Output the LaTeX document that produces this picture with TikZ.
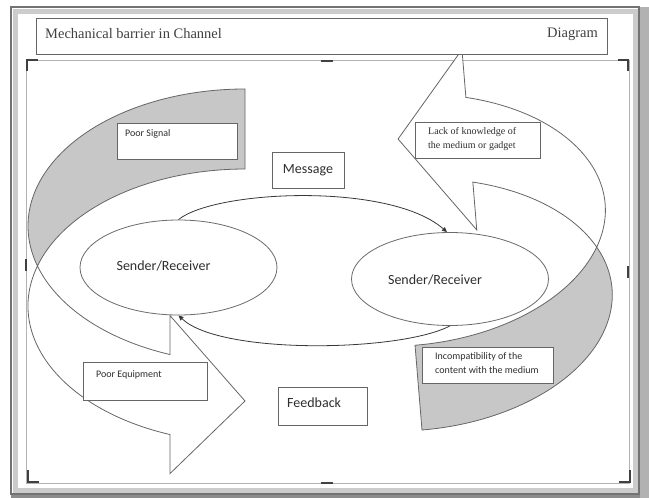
\documentclass[tikz,border=0pt]{standalone}
\usepackage{fontspec}
\setmainfont{Liberation Serif}
\newfontfamily\calibri{Carlito}
\usetikzlibrary{shapes.geometric,arrows.meta}
\begin{document}
\begin{tikzpicture}[x=1pt,y=-1pt,
  outline/.style={draw=black!60, line width=0.8pt},
  back/.style={outline, fill=black!22},
  front/.style={outline, fill=white},
  ring/.style={draw=black!78, line width=0.8pt, -{Triangle[length=5pt,width=4.5pt]}},
  actor/.style={ellipse, draw=black!58, line width=0.8pt, fill=white, minimum width=197pt, minimum height=95pt, inner sep=0pt},
  tag/.style={draw=black!60, line width=0.7pt, fill=white, inner sep=0pt},
  sanslbl/.style={font=\calibri\fontsize{14}{16}\selectfont, text=black!82, inner sep=0pt},
  smallsans/.style={font=\calibri\fontsize{10}{14.5}\selectfont, text=black!82, inner sep=0pt, align=left},
  smallserif/.style={font=\fontsize{10}{14.5}\selectfont, text=black!82, inner sep=0pt, align=left},
  titlefont/.style={font=\fontsize{14.5}{17}\selectfont, text=black!75, inner sep=0pt},
  cropmark/.style={draw=black!75, line width=1.6pt},
]
\useasboundingbox (0,0) rectangle (649,498);
\fill[white] (0,0) rectangle (649,498);

% page border with its shadow
\draw[black!20, line width=5pt] (15,11) rectangle (635,490);
\draw[black!55, line width=2pt] (11,7) rectangle (639,494);
\fill[black!45] (11,495) rectangle (649,498);
\fill[black!30] (640,7) rectangle (649,498);

% text frame and its handles
\draw[black!30, line width=0.6pt] (26,60) rectangle (629,483);
\draw[cropmark] (27,71) -- (27,60) -- (38,60);
\draw[cropmark] (618,60) -- (628,60) -- (628,71);
\draw[cropmark] (28,470) -- (28,482) -- (39,482);
\draw[cropmark] (619,482) -- (630,482) -- (630,470);
\draw[cropmark] (321,61) -- (333,61);
\draw[cropmark] (321,483) -- (333,483);
\draw[cropmark] (26,259) -- (26,271);
\draw[cropmark] (628,266) -- (628,278);

% curved ribbon arrow on the left, pointing right
\begin{scope}[shift={(245,89)}]
  \path[back] (0,0) arc[start angle=270, end angle=163.02, x radius=217, y radius=137]
     arc[start angle=196.98, end angle=270, x radius=217, y radius=137] -- cycle;
  \path[front] (-207.54,177.0) arc[start angle=163.02, end angle=110.22, x radius=217, y radius=137]
     -- (-75,226.56) -- (0,312) -- (-75,384.56) -- (-75,345.56)
     arc[start angle=110.22, end angle=196.98, x radius=217, y radius=137] -- cycle;
\end{scope}

% curved ribbon arrow on the right, pointing left
\begin{scope}[shift={(422,430)}, rotate=184.7]
  \path[back] (0,0) arc[start angle=270, end angle=160.20, x radius=201, y radius=125.5]
     arc[start angle=199.80, end angle=270, x radius=201, y radius=125.5] -- cycle;
  \path[front] (-189.12,168.01) arc[start angle=160.20, end angle=110.68, x radius=201, y radius=125.5]
     -- (-71,194.9) -- (0,292) -- (-71,375.9) -- (-71,327.9)
     arc[start angle=110.68, end angle=199.80, x radius=201, y radius=125.5] -- cycle;
\end{scope}

% the two parties
\node[actor] (L) at (178.5,267.5) {};
\node[sanslbl] (Ltext) at (163.5,266) {Sender/Receiver};
\node[actor, minimum height=93pt] (R) at (450,279) {};
\node[sanslbl] (Rtext) at (435,280) {Sender/Receiver};

% message and feedback paths
\draw[ring] (L.north) .. controls (215,190) and (390,182) .. ([xshift=-3pt]R.north);
\draw[ring] (R.south) .. controls (400,352) and (220,355) .. (L.south);

% labels
\node[tag, sanslbl, minimum width=72pt, minimum height=36pt] (msg) at (308,170) {Message};
\node[tag, minimum width=89pt, minimum height=38pt] (fb) at (322.5,406) {};
\node[sanslbl, anchor=west] (fbtext) at (287,403) {Feedback};

\node[tag, minimum width=120pt, minimum height=36pt] (sig) at (177,141) {};
\node[smallsans, anchor=west] (sigtext) at (125,134) {Poor Signal};

\node[tag, minimum width=124pt, minimum height=38pt] (equip) at (145,381) {};
\node[smallsans, anchor=west] (equiptext) at (96,375) {Poor Equipment};

\node[tag, minimum width=125pt, minimum height=36pt] (know) at (477.5,140) {};
\node[smallserif, anchor=north west] (knowtext) at (428,127) {Lack of knowledge of\\the medium or gadget};

\node[tag, minimum width=131pt, minimum height=36pt] (incomp) at (487.5,365) {};
\node[smallsans, anchor=north west] (incomptext) at (435,352) {Incompatibility of the\\content with the medium};

% title bar
\node[tag, minimum width=571pt, minimum height=36pt] (title) at (321.5,36) {};
\node[titlefont, anchor=west] (titleL) at (45,34) {Mechanical barrier in Channel};
\node[titlefont, anchor=east] (titleR) at (598,34) {Diagram};
\end{tikzpicture}
\end{document}
